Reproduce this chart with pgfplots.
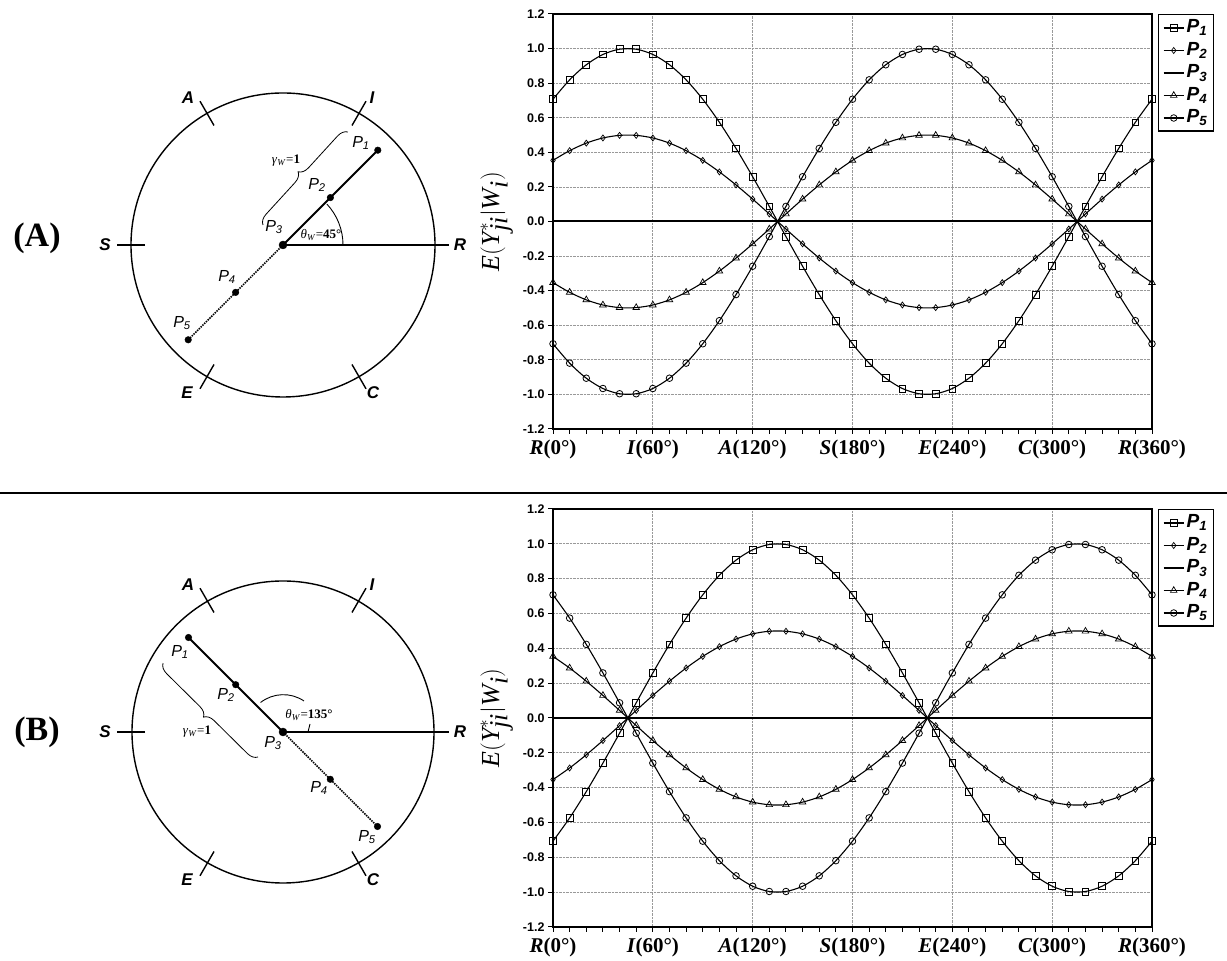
\documentclass[border=0pt]{standalone}
\usepackage{pgfplots}
\usepackage{pgfplotstable}
\pgfplotsset{compat=1.18}
\usepackage{fontspec}
\setmainfont{Liberation Serif}
\setsansfont{Liberation Sans}
\usetikzlibrary{decorations.pathreplacing}

\pgfplotstableread{
t p1 p2 p4 p5
0 0.7071 0.3536 -0.3536 -0.7071
10 0.8192 0.4096 -0.4096 -0.8192
20 0.9063 0.4532 -0.4532 -0.9063
30 0.9659 0.4830 -0.4830 -0.9659
40 0.9962 0.4981 -0.4981 -0.9962
50 0.9962 0.4981 -0.4981 -0.9962
60 0.9659 0.4830 -0.4830 -0.9659
70 0.9063 0.4532 -0.4532 -0.9063
80 0.8192 0.4096 -0.4096 -0.8192
90 0.7071 0.3536 -0.3536 -0.7071
100 0.5736 0.2868 -0.2868 -0.5736
110 0.4226 0.2113 -0.2113 -0.4226
120 0.2588 0.1294 -0.1294 -0.2588
130 0.0872 0.0436 -0.0436 -0.0872
140 -0.0872 -0.0436 0.0436 0.0872
150 -0.2588 -0.1294 0.1294 0.2588
160 -0.4226 -0.2113 0.2113 0.4226
170 -0.5736 -0.2868 0.2868 0.5736
180 -0.7071 -0.3536 0.3536 0.7071
190 -0.8192 -0.4096 0.4096 0.8192
200 -0.9063 -0.4532 0.4532 0.9063
210 -0.9659 -0.4830 0.4830 0.9659
220 -0.9962 -0.4981 0.4981 0.9962
230 -0.9962 -0.4981 0.4981 0.9962
240 -0.9659 -0.4830 0.4830 0.9659
250 -0.9063 -0.4532 0.4532 0.9063
260 -0.8192 -0.4096 0.4096 0.8192
270 -0.7071 -0.3536 0.3536 0.7071
280 -0.5736 -0.2868 0.2868 0.5736
290 -0.4226 -0.2113 0.2113 0.4226
300 -0.2588 -0.1294 0.1294 0.2588
310 -0.0872 -0.0436 0.0436 0.0872
320 0.0872 0.0436 -0.0436 -0.0872
330 0.2588 0.1294 -0.1294 -0.2588
340 0.4226 0.2113 -0.2113 -0.4226
350 0.5736 0.2868 -0.2868 -0.5736
360 0.7071 0.3536 -0.3536 -0.7071
}\topdata

\pgfplotstableread{
t p1 p2 p4 p5
0 -0.7071 -0.3536 0.3536 0.7071
10 -0.5736 -0.2868 0.2868 0.5736
20 -0.4226 -0.2113 0.2113 0.4226
30 -0.2588 -0.1294 0.1294 0.2588
40 -0.0872 -0.0436 0.0436 0.0872
50 0.0872 0.0436 -0.0436 -0.0872
60 0.2588 0.1294 -0.1294 -0.2588
70 0.4226 0.2113 -0.2113 -0.4226
80 0.5736 0.2868 -0.2868 -0.5736
90 0.7071 0.3536 -0.3536 -0.7071
100 0.8192 0.4096 -0.4096 -0.8192
110 0.9063 0.4532 -0.4532 -0.9063
120 0.9659 0.4830 -0.4830 -0.9659
130 0.9962 0.4981 -0.4981 -0.9962
140 0.9962 0.4981 -0.4981 -0.9962
150 0.9659 0.4830 -0.4830 -0.9659
160 0.9063 0.4532 -0.4532 -0.9063
170 0.8192 0.4096 -0.4096 -0.8192
180 0.7071 0.3536 -0.3536 -0.7071
190 0.5736 0.2868 -0.2868 -0.5736
200 0.4226 0.2113 -0.2113 -0.4226
210 0.2588 0.1294 -0.1294 -0.2588
220 0.0872 0.0436 -0.0436 -0.0872
230 -0.0872 -0.0436 0.0436 0.0872
240 -0.2588 -0.1294 0.1294 0.2588
250 -0.4226 -0.2113 0.2113 0.4226
260 -0.5736 -0.2868 0.2868 0.5736
270 -0.7071 -0.3536 0.3536 0.7071
280 -0.8192 -0.4096 0.4096 0.8192
290 -0.9063 -0.4532 0.4532 0.9063
300 -0.9659 -0.4830 0.4830 0.9659
310 -0.9962 -0.4981 0.4981 0.9962
320 -0.9962 -0.4981 0.4981 0.9962
330 -0.9659 -0.4830 0.4830 0.9659
340 -0.9063 -0.4532 0.4532 0.9063
350 -0.8192 -0.4096 0.4096 0.8192
360 -0.7071 -0.3536 0.3536 0.7071
}\botdata

\pgfplotsset{
  mychart/.style={
    scale only axis, width=599pt,
    xmin=0, xmax=360, ymin=-1.2, ymax=1.2,
    xtick={0,60,120,180,240,300,360},
    minor xtick={0,10,...,360},
    xticklabels={\textit{R}(0°),\textit{I}(60°),\textit{A}(120°),\textit{S}(180°),\textit{E}(240°),\textit{C}(300°),\textit{R}(360°)},
    ytick={-1.2,-1,-0.8,-0.6,-0.4,-0.2,0,0.2,0.4,0.6,0.8,1,1.2},
    yticklabel style={font=\sffamily\bfseries\fontsize{12.5}{12.5}\selectfont, /pgf/number format/.cd, fixed, fixed zerofill, precision=1, assume math mode=true},
    xticklabel style={font=\bfseries\fontsize{21}{21}\selectfont, yshift=-2pt},
    tick pos=left, tick align=outside,
    major tick length=5pt, minor tick length=5pt,
    tick style={black, line width=1pt},
    axis line style={line width=1.8pt},
    grid=major,
    major grid style={densely dotted, gray!80, line width=0.7pt},
    ylabel={$\textit{E}\Big(\textit{Y}^{*}_{\textit{ji}}\Big|\textit{W}_{\textit{i}}\Big)$},
    ylabel style={at={(axis description cs:-0.094,0.5)}, anchor=center, font=\fontsize{26}{26}\selectfont},
    clip=false,
    legend style={at={(1.01,1)}, anchor=north west, draw=black, line width=1.5pt,
      inner xsep=4pt, inner ysep=2pt, row sep=0pt,
      nodes={inner sep=2pt, text height=14pt, text depth=4.5pt},
      font=\sffamily\bfseries\itshape\fontsize{19}{19}\selectfont, cells={anchor=west}},
    legend image code/.code={\draw[mark repeat=2, mark phase=2, #1] plot coordinates {(0pt,0pt) (10pt,0pt) (20pt,0pt)};},
  },
  s1/.style={black, line width=1.1pt, smooth, mark=square, mark size=3.4pt, mark options={solid, fill=white, line width=0.8pt}},
  s2/.style={black, line width=1.1pt, smooth, mark=diamond, mark size=3pt, mark options={solid, fill=white, line width=0.7pt}},
  s3/.style={black, line width=2pt, no marks},
  s4/.style={black, line width=1.1pt, smooth, mark=triangle, mark size=3.8pt, mark options={solid, fill=white, line width=0.7pt}},
  s5/.style={black, line width=1.1pt, smooth, mark=o, mark size=3.3pt, mark options={solid, fill=white, line width=0.8pt}},
  diag/.style={hide axis, x=1pt, y=1pt, xmin=-200, xmax=200, ymin=-200, ymax=200, clip=false, anchor=south west},
}

\newcommand{\lab}[1]{{\sffamily\bfseries\itshape\fontsize{17}{17}\selectfont #1}}
\newcommand{\plab}[1]{{\sffamily\itshape\fontsize{16}{16}\selectfont P\textsubscript{#1}}}

\begin{document}
\begin{tikzpicture}
\useasboundingbox (0pt,0pt) rectangle (1227pt,961pt);
\fill[white] (0pt,0pt) rectangle (1227pt,961pt);

% separator
\draw[line width=2.5pt] (0pt,468pt) -- (1227pt,468pt);

% panel labels
\node[font=\bfseries\fontsize{34}{34}\selectfont] at (37pt,723pt) {(A)};
\node[font=\bfseries\fontsize{34}{34}\selectfont] at (37pt,229pt) {(B)};

% ---------- top diagram ----------
\begin{axis}[diag, at={(83pt,516pt)}]
\draw[line width=1.4pt] (0,0) circle[radius=152pt];
\draw[line width=1.4pt] (138,0) -- (166,0);
\draw[line width=1.4pt] (-138,0) -- (-166,0);
\draw[line width=1.4pt] (69,119.5) -- (83,143.8);
\draw[line width=1.4pt] (-69,119.5) -- (-83,143.8);
\draw[line width=1.4pt] (-69,-119.5) -- (-83,-143.8);
\draw[line width=1.4pt] (69,-119.5) -- (83,-143.8);
\draw[line width=1.2pt] (0,0) -- (166,0);
\addplot[line width=2pt, black] coordinates {(0,0) (94.8,94.8)};
\addplot[line width=1.5pt, black, densely dotted] coordinates {(0,0) (-94.8,-94.8)};
\addplot[only marks, mark=*, mark size=3.3pt, black] coordinates {(94.8,94.8) (47.4,47.4) (-47.4,-47.4) (-94.8,-94.8)};
\addplot[only marks, mark=*, mark size=4pt, black] coordinates {(0,0)};
\draw[line width=0.9pt] (60,0) arc[start angle=0, end angle=43, radius=60pt];
\draw[decorate, decoration={brace, amplitude=10pt}, line width=0.8pt] (-20,20) -- (65,113);
\node at (177,0) {\lab{R}};
\node at (-178,0) {\lab{S}};
\node at (-95,147) {\lab{A}};
\node at (89,147) {\lab{I}};
\node at (-96,-148) {\lab{E}};
\node at (90,-148) {\lab{C}};
\node at (78,102) {\plab{1}};
\node at (34,60) {\plab{2}};
\node at (-9,18) {\plab{3}};
\node at (-56,-32) {\plab{4}};
\node at (-101,-78) {\plab{5}};
\node[font=\fontsize{13}{13}\selectfont] at (38,10) {\textit{θ}\textsubscript{\textit{W}}=\textbf{45°}};
\node[font=\fontsize{13}{13}\selectfont] at (3,84) {\textit{γ}\textsubscript{\textit{W}}=\textbf{1}};
\end{axis}

% ---------- bottom diagram ----------
\begin{axis}[diag, at={(83pt,29pt)}]
\draw[line width=1.4pt] (0,0) circle[radius=151pt];
\draw[line width=1.4pt] (138,0) -- (166,0);
\draw[line width=1.4pt] (-138,0) -- (-166,0);
\draw[line width=1.4pt] (69,119.5) -- (83,143.8);
\draw[line width=1.4pt] (-69,119.5) -- (-83,143.8);
\draw[line width=1.4pt] (-69,-119.5) -- (-83,-143.8);
\draw[line width=1.4pt] (69,-119.5) -- (83,-143.8);
\draw[line width=1.2pt] (0,0) -- (166,0);
\addplot[line width=2pt, black] coordinates {(0,0) (-94.5,94.5)};
\addplot[line width=1.5pt, black, densely dotted] coordinates {(0,0) (94.5,-94.5)};
\addplot[only marks, mark=*, mark size=3.3pt, black] coordinates {(-94.5,94.5) (-47.3,47.3) (47.3,-47.3) (94.5,-94.5)};
\addplot[only marks, mark=*, mark size=4pt, black] coordinates {(0,0)};
\draw[line width=0.9pt] (21,31) arc[start angle=56, end angle=128, radius=37pt];
\draw[line width=0.9pt] (25,0) -- (27,8);
\draw[decorate, decoration={brace, amplitude=10pt}, line width=0.8pt] (-25,-25) -- (-120,69);
\node at (177,0) {\lab{R}};
\node at (-178,0) {\lab{S}};
\node at (-95,147) {\lab{A}};
\node at (89,147) {\lab{I}};
\node at (-96,-148) {\lab{E}};
\node at (90,-148) {\lab{C}};
\node at (-103,80) {\plab{1}};
\node at (-57,37) {\plab{2}};
\node at (-10,-11) {\plab{3}};
\node at (36,-56) {\plab{4}};
\node at (84,-105) {\plab{5}};
\node[font=\fontsize{13}{13}\selectfont] at (26,17) {\textit{θ}\textsubscript{\textit{W}}=\textbf{135°}};
\node[font=\fontsize{13}{13}\selectfont] at (-86,0) {\textit{γ}\textsubscript{\textit{W}}=\textbf{1}};
\end{axis}

% ---------- top chart ----------
\begin{axis}[mychart, height=415pt, at={(553pt,532pt)}, anchor=south west]
\addplot[s1] table[x=t, y=p1] {\topdata}; \addlegendentry{P\textsubscript{1}}
\addplot[s2] table[x=t, y=p2] {\topdata}; \addlegendentry{P\textsubscript{2}}
\addplot[s3] coordinates {(0,0) (360,0)}; \addlegendentry{P\textsubscript{3}}
\addplot[s4] table[x=t, y=p4] {\topdata}; \addlegendentry{P\textsubscript{4}}
\addplot[s5] table[x=t, y=p5] {\topdata}; \addlegendentry{P\textsubscript{5}}
\end{axis}

% ---------- bottom chart ----------
\begin{axis}[mychart, height=418pt, at={(553pt,34pt)}, anchor=south west]
\addplot[s1] table[x=t, y=p1] {\botdata}; \addlegendentry{P\textsubscript{1}}
\addplot[s2] table[x=t, y=p2] {\botdata}; \addlegendentry{P\textsubscript{2}}
\addplot[s3] coordinates {(0,0) (360,0)}; \addlegendentry{P\textsubscript{3}}
\addplot[s4] table[x=t, y=p4] {\botdata}; \addlegendentry{P\textsubscript{4}}
\addplot[s5] table[x=t, y=p5] {\botdata}; \addlegendentry{P\textsubscript{5}}
\end{axis}
\end{tikzpicture}
\end{document}
